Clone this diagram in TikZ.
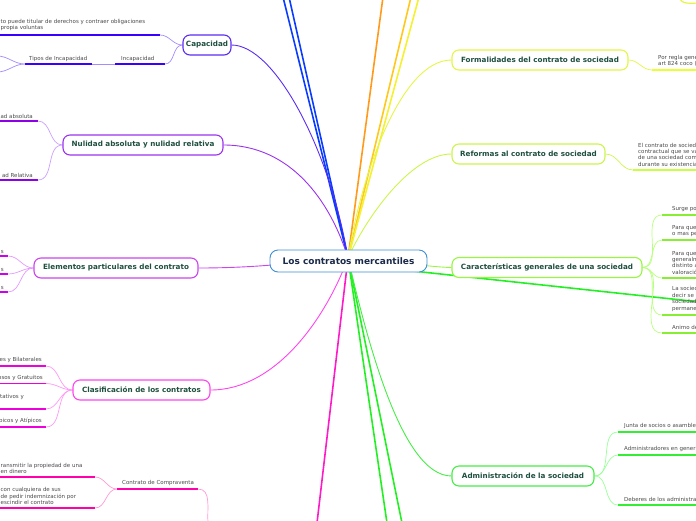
\documentclass[tikz,border=0pt]{standalone}
\usepackage{fontspec}
\setmainfont{DejaVu Sans}
\pgfdeclarelayer{bg}
\pgfsetlayers{bg,main}
\definecolor{nodetext}{HTML}{1F4F3F}
\definecolor{roottext}{HTML}{1A2A4A}
\definecolor{rootline}{HTML}{3D8FD6}
\definecolor{leafgray}{HTML}{4A4A4A}
\definecolor{capc}{HTML}{5A2CF0}
\definecolor{capul}{HTML}{3A00FF}
\definecolor{capl}{HTML}{A58CFF}
\definecolor{nulc}{HTML}{9A33EE}
\definecolor{nulul}{HTML}{8E00E8}
\definecolor{null}{HTML}{C9A0FF}
\definecolor{elec}{HTML}{CC44EE}
\definecolor{eleul}{HTML}{CC00EE}
\definecolor{elel}{HTML}{E399FF}
\definecolor{clac}{HTML}{FF44EE}
\definecolor{claul}{HTML}{EE00DD}
\definecolor{clal}{HTML}{FF99F5}
\definecolor{cvc}{HTML}{FF22AA}
\definecolor{cvul}{HTML}{FF00AA}
\definecolor{cvl}{HTML}{FF99D5}
\definecolor{forc}{HTML}{E6F545}
\definecolor{forul}{HTML}{EAFF33}
\definecolor{refc}{HTML}{CCF54C}
\definecolor{reful}{HTML}{C8FF40}
\definecolor{carc}{HTML}{99F544}
\definecolor{carul}{HTML}{88EE33}
\definecolor{carl}{HTML}{B8FF80}
\definecolor{admc}{HTML}{44EE44}
\definecolor{admul}{HTML}{33EE33}
\definecolor{adml}{HTML}{99FF99}
\definecolor{mblue}{HTML}{0A3CFF}
\definecolor{morange}{HTML}{FF9A1A}
\definecolor{myelor}{HTML}{FFC81A}
\definecolor{myel}{HTML}{F5F030}
\definecolor{mpink}{HTML}{FF1AC8}
\definecolor{mgreen}{HTML}{22F022}
\tikzset{
  branch/.style={draw=#1, line width=1.1pt, rounded corners=7pt, fill=white,
    minimum height=20pt, inner sep=0pt, text=nodetext,
    font=\fontsize{7.2}{8}\selectfont\bfseries},
  rootbox/.style={draw=rootline, line width=0.9pt, rounded corners=8pt, fill=white,
    minimum height=22pt, inner sep=0pt, text=roottext,
    font=\fontsize{9}{10}\selectfont\bfseries},
  leaf/.style={font=\fontsize{5.5}{6.4}\selectfont, text=leafgray, inner sep=0pt, align=left},
  ul/.style={draw=#1, line width=1.8pt},
  conn/.style={draw=#1, line width=0.7pt},
  mainline/.style={draw=#1, line width=1.6pt},
}
\begin{document}
\begin{tikzpicture}[x=1pt,y=-1pt]
\useasboundingbox (0,0) rectangle (696,520);
\clip (0,0) rectangle (696,520);

% ---------- central and branch nodes ----------
\node[rootbox, minimum width=157pt] (root) at (348.5,261) {Los contratos mercantiles};
\coordinate (hub) at (348,258);
\coordinate (hubr) at (348,264);

\node[branch=capc, minimum width=48pt] (cap) at (207,45) {Capacidad};
\node[branch=nulc, minimum width=160pt] (nul) at (143,145) {Nulidad absoluta y nulidad relativa};
\node[branch=elec, minimum width=164pt] (ele) at (116,268) {Elementos particulares del contrato};
\node[branch=clac, minimum width=137pt] (cla) at (141.5,390) {Clasificación de los contratos};

\node[branch=forc, minimum width=176pt] (for) at (540,60) {Formalidades del contrato de sociedad};
\node[branch=refc, minimum width=153pt] (ref) at (528.5,154) {Reformas al contrato de sociedad};
\node[branch=carc, minimum width=190pt] (car) at (547,267.5) {Características generales de una sociedad};
\node[branch=admc, minimum width=142pt] (adm) at (523,476) {Administración de la sociedad};

% off-page ends
\coordinate (ob1) at (283,-3);
\coordinate (ob2) at (289,-3);
\coordinate (oor) at (383,-3);
\coordinate (oy1) at (411,-3);
\coordinate (oy2) at (419,-3);
\coordinate (opk) at (317,523);
\coordinate (og1) at (387,523);
\coordinate (og2) at (402,523);
\coordinate (ogr) at (700,302);

% ---------- Capacidad leaves ----------
\node[leaf, anchor=south west] (c1t) at (0.5,31) {to puede titular de derechos y contraer obligaciones\\ propia voluntas};
\coordinate (c1a) at (-2,35); \coordinate (c1b) at (160,35);
\node[leaf, anchor=south west] (inct) at (121,61.5) {Incapacidad};
\coordinate (inca) at (115,64); \coordinate (incb) at (165,64);
\node[leaf, anchor=south west] (tipt) at (29,61.5) {Tipos de Incapacidad};
\coordinate (tipa) at (25,64); \coordinate (tipb) at (92,64);
\coordinate (tx1) at (-3,56); \coordinate (tx2) at (-3,72);

% ---------- Nulidad leaves ----------
\node[leaf, anchor=south east] (n1t) at (33,118.5) {ad absoluta};
\coordinate (n1a) at (-2,121); \coordinate (n1b) at (38,121);
\node[leaf, anchor=south east] (n2t) at (33,177.5) {ad Relativa};
\coordinate (n2a) at (-2,180); \coordinate (n2b) at (38,180);

% ---------- Elementos leaves ----------
\node[leaf, anchor=south east] (e1t) at (4,253.5) {s};
\coordinate (e1a) at (-2,256); \coordinate (e1b) at (8,256);
\node[leaf, anchor=south east] (e2t) at (4,271.5) {s};
\coordinate (e2a) at (-2,274); \coordinate (e2b) at (8,274);
\node[leaf, anchor=south east] (e3t) at (4,289.5) {s};
\coordinate (e3a) at (-2,292); \coordinate (e3b) at (8,292);

% ---------- Clasificacion leaves ----------
\node[leaf, anchor=south east] (k1t) at (42,362.5) {es y Bilaterales};
\coordinate (k1a) at (-2,366); \coordinate (k1b) at (46,366);
\node[leaf, anchor=south east] (k2t) at (43,380.5) {osos y Gratuitos};
\coordinate (k2a) at (-2,383.5); \coordinate (k2b) at (46,383.5);
\node[leaf, anchor=south east] (k3t) at (24,399.5) {itativos y};
\coordinate (k3a) at (-2,409); \coordinate (k3b) at (46,409);
\node[leaf, anchor=south east] (k4t) at (42,424) {picos y Atípicos};
\coordinate (k4a) at (-2,427); \coordinate (k4b) at (46,427);

% ---------- Compraventa ----------
\node[leaf, anchor=south west] (cvt) at (122,486) {Contrato de Compraventa};
\coordinate (cva) at (117,489); \coordinate (cvb) at (198,489);
\coordinate (cvoff) at (208,523);
\node[leaf, anchor=south west] (v1t) at (0.5,474) {ransmitir la propiedad de una\\ en dinero};
\coordinate (v1a) at (-2,477); \coordinate (v1b) at (95,477);
\node[leaf, anchor=south west] (v2t) at (0.5,505) {con cualquiera de sus\\de pedir indemnización por\\escindir el contrato};
\coordinate (v2a) at (-2,508); \coordinate (v2b) at (95,508);

% ---------- Formalidades ----------
\node[leaf, anchor=south west] (f1t) at (658,66.5) {Por regla gene\\art 824 coco (};
\coordinate (f1a) at (652,70); \coordinate (f1b) at (700,70);
\coordinate (tyA) at (680,-3); \coordinate (tyB) at (700,3);

% ---------- Reformas ----------
\node[leaf, anchor=south west] (r1t) at (638,166.5) {El contrato de socied\\contractual que se va\\de una sociedad com\\durante su existencia};
\coordinate (r1a) at (633,170); \coordinate (r1b) at (700,170);

% ---------- Caracteristicas leaves ----------
\node[leaf, anchor=south west] (g1t) at (672,212) {Surge po};
\coordinate (g1a) at (662,215); \coordinate (g1b) at (700,215);
\node[leaf, anchor=south west] (g2t) at (672,237) {Para que\\o mas pe};
\coordinate (g2a) at (662,240); \coordinate (g2b) at (700,240);
\node[leaf, anchor=south west] (g3t) at (672,274.5) {Para que\\generalm\\distinto a\\valoració};
\coordinate (g3a) at (662,278); \coordinate (g3b) at (700,278);
\node[leaf, anchor=south west] (g4t) at (672,311.5) {La socied\\decir se\\sociedad\\permane};
\coordinate (g4a) at (662,315); \coordinate (g4b) at (700,315);
\node[leaf, anchor=south west] (g5t) at (672,329.5) {Animo de};
\coordinate (g5a) at (662,333); \coordinate (g5b) at (700,333);

% ---------- Administracion leaves ----------
\node[leaf, anchor=south west] (a1t) at (624,429) {Junta de socios o asamble};
\coordinate (a1a) at (618,432); \coordinate (a1b) at (700,432);
\node[leaf, anchor=south west] (a2t) at (624,452) {Administradores en gener};
\coordinate (a2a) at (618,455); \coordinate (a2b) at (700,455);
\node[leaf, anchor=south west] (a3t) at (624,502) {Deberes de los administra};
\coordinate (a3a) at (618,505); \coordinate (a3b) at (700,505);

\begin{pgfonlayer}{bg}
  % main lines from the central topic
  \draw[mainline=mblue] (hub) -- (ob1);
  \draw[mainline=mblue] (hub) -- (ob2);
  \draw[mainline=morange] (hub) -- (oor);
  \draw[mainline=myelor] (hub) -- (oy1);
  \draw[mainline=myel] (hub) -- (oy2);
  \draw[mainline=mpink] (hub) -- (opk);
  \draw[mainline=mgreen] (hub) -- (og1);
  \draw[mainline=mgreen] (hub) -- (og2);
  \draw[mainline=mgreen] (hubr) -- (ogr);

  \draw[conn=capc, line width=0.9pt] (cap.east) .. controls (275,45) and (330,150) .. (hub);
  \draw[conn=nulc, line width=0.9pt] (nul.east) .. controls (290,145) and (330,200) .. (hub);
  \draw[conn=elec, line width=0.9pt] (ele.east) .. controls (260,268) and (300,262) .. (hub);
  \draw[conn=clac, line width=0.9pt] (cla.east) .. controls (275,390) and (325,320) .. (hub);
  \draw[conn=forc, line width=0.9pt] (for.west) .. controls (400,60) and (360,180) .. (hub);
  \draw[conn=refc, line width=0.9pt] (ref.west) .. controls (410,154) and (365,220) .. (hub);
  \draw[conn=carc, line width=0.9pt] (car.west) .. controls (430,267) and (400,262) .. (hub);
  \draw[conn=admc, line width=0.9pt] (adm.west) .. controls (400,476) and (365,330) .. (hub);

  % Capacidad leaves
  \draw[ul=capul] (c1a) -- (c1b);
  \draw[ul=capul] (inca) -- (incb);
  \draw[ul=capul] (tipa) -- (tipb);
  \draw[conn=capl] (c1b) to[out=0,in=180] (cap.west);
  \draw[conn=capl] (incb) to[out=0,in=180] (cap.west);
  \draw[conn=capl] (tipb) -- (inca);
  \draw[conn=capl] (tipa) to[out=180,in=0] (tx1);
  \draw[conn=capl] (tipa) to[out=180,in=0] (tx2);

  % Nulidad
  \draw[ul=nulul] (n1a) -- (n1b);
  \draw[ul=nulul] (n2a) -- (n2b);
  \draw[conn=null] (n1b) to[out=0,in=180] (nul.west);
  \draw[conn=null] (n2b) to[out=0,in=180] (nul.west);

  % Elementos
  \draw[ul=eleul] (e1a) -- (e1b);
  \draw[ul=eleul] (e2a) -- (e2b);
  \draw[ul=eleul] (e3a) -- (e3b);
  \draw[conn=elel] (e1b) to[out=0,in=180] (ele.west);
  \draw[conn=elel] (e2b) to[out=0,in=180] (ele.west);
  \draw[conn=elel] (e3b) to[out=0,in=180] (ele.west);

  % Clasificacion
  \draw[ul=claul] (k1a) -- (k1b);
  \draw[ul=claul] (k2a) -- (k2b);
  \draw[ul=claul] (k3a) -- (k3b);
  \draw[ul=claul] (k4a) -- (k4b);
  \draw[conn=clal] (k1b) to[out=0,in=180] (cla.west);
  \draw[conn=clal] (k2b) to[out=0,in=180] (cla.west);
  \draw[conn=clal] (k3b) to[out=0,in=180] (cla.west);
  \draw[conn=clal] (k4b) to[out=0,in=180] (cla.west);

  % Compraventa
  \draw[ul=cvul] (cva) -- (cvb);
  \draw[ul=cvul] (v1a) -- (v1b);
  \draw[ul=cvul] (v2a) -- (v2b);
  \draw[conn=cvl] (cvb) to[out=0,in=95] (cvoff);
  \draw[conn=cvl] (v1b) to[out=0,in=180] (cva);
  \draw[conn=cvl] (v2b) to[out=0,in=180] (cva);

  % Formalidades
  \draw[ul=forul] (f1a) -- (f1b);
  \draw[conn=forc] (for.east) to[out=0,in=180] (f1a);
  \draw[conn=forc, line width=1.2pt] (tyA) to[out=-90,in=180] (tyB);

  % Reformas
  \draw[ul=reful] (r1a) -- (r1b);
  \draw[conn=refc] (ref.east) to[out=0,in=180] (r1a);

  % Caracteristicas
  \foreach \i in {1,...,5} {
    \draw[ul=carul] (g\i a) -- (g\i b);
    \draw[conn=carl] (car.east) to[out=0,in=180] (g\i a);
  }

  % Administracion
  \foreach \i in {1,2,3} {
    \draw[ul=admul] (a\i a) -- (a\i b);
    \draw[conn=adml] (adm.east) to[out=0,in=180] (a\i a);
  }
\end{pgfonlayer}
\end{tikzpicture}
\end{document}
